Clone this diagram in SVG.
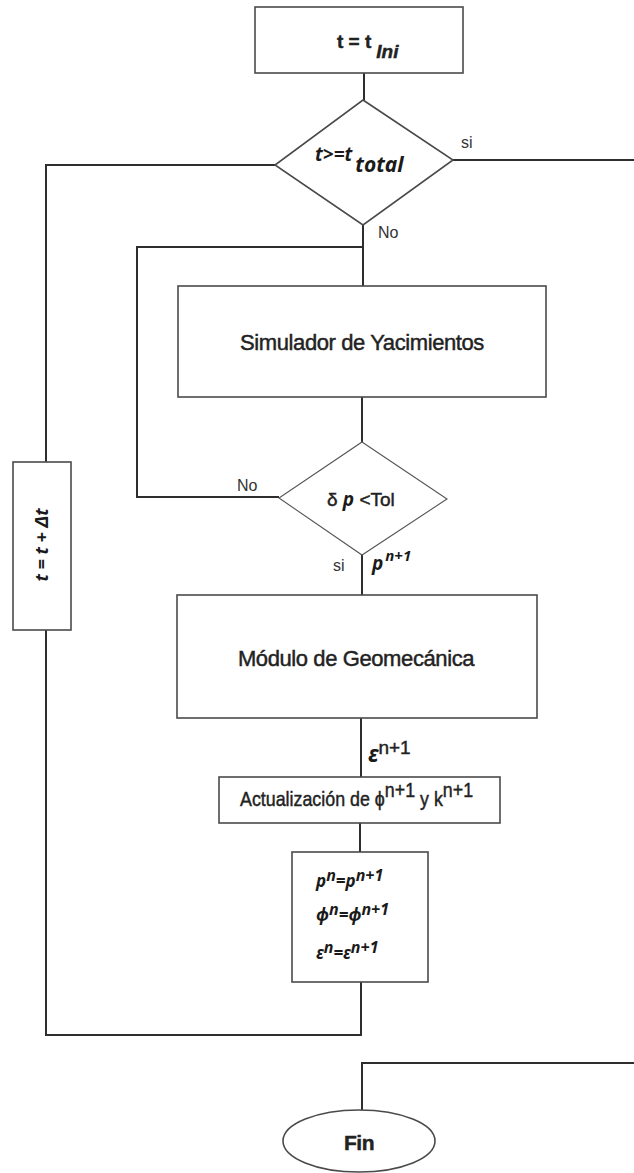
<svg xmlns="http://www.w3.org/2000/svg" width="634" height="1173" viewBox="0 0 634 1173">
  <style>
    .box { fill: #ffffff; stroke: #4a4a4a; stroke-width: 1.6; }
    .thin { fill: #ffffff; stroke: #555555; stroke-width: 1.1; }
    .wire { fill: none; stroke: #2e2e2e; stroke-width: 2; }
    .lbl { font-family: "Liberation Sans", Arial, sans-serif; fill: #222222; stroke: #222222; stroke-width: 0.45; }
    .math { font-family: "Noto Sans", "Open Sans", sans-serif; font-weight: bold; font-style: italic; fill: #1a1a1a; }
    .note { font-family: "Liberation Sans", Arial, sans-serif; fill: #333333; font-size: 16px; }
  </style>
  <rect width="634" height="1173" fill="#ffffff"/>

  <!-- connectors -->
  <g id="connectors">
    <path class="wire" d="M364 73 V100"/>
    <path class="wire" d="M453 160 H634"/>
    <path class="wire" d="M275 165 H46 V462"/>
    <path class="wire" d="M46 630 V1035 H361 V982"/>
    <path class="wire" d="M363 225 V286"/>
    <path class="wire" d="M363 247 H137 V497 H279"/>
    <path class="wire" d="M362 397 V442"/>
    <path class="wire" d="M362 555 V595"/>
    <path class="wire" d="M361 718 V777"/>
    <path class="wire" d="M360 823 V852"/>
    <path class="wire" d="M362 1110 V1063 H634"/>
    <text class="note" x="461" y="148">si</text>
    <text class="note" x="378" y="238">No</text>
    <text class="note" x="237" y="491">No</text>
    <text class="note" x="333" y="571">si</text>
    <text class="math" x="372" y="570" font-size="19">p<tspan dx="2" dy="-9" font-size="15">n+1</tspan></text>
    <text class="math" x="368" y="762" font-size="23" font-style="normal">ε<tspan class="lbl" dy="-8" font-size="19" font-style="normal" font-weight="normal">n+1</tspan></text>
  </g>

  <!-- start -->
  <g id="start">
    <rect class="box" x="255" y="7" width="208" height="66"/>
    <text class="lbl" x="337" y="48" font-size="19" font-weight="bold">t = t<tspan dx="5" dy="10" font-style="italic">Ini</tspan></text>
  </g>

  <!-- time check -->
  <g id="time-check">
    <polygon class="box" points="363,100 453,160 363,225 275,165"/>
    <text class="math" x="315" y="161" font-size="19">t&gt;=t<tspan dx="3" dy="11" font-size="21">total</tspan></text>
  </g>

  <!-- time step -->
  <g id="time-step">
    <rect class="box" x="13" y="462" width="58" height="168"/>
    <text class="math" x="0" y="0" font-size="18" text-anchor="middle" transform="translate(48 545) rotate(-90)">t = t + Δt</text>
  </g>

  <!-- reservoir simulator -->
  <g id="simulator">
    <rect class="box" x="178" y="286" width="368" height="111"/>
    <text class="lbl" x="362" y="350" font-size="22" text-anchor="middle" letter-spacing="-0.4">Simulador de Yacimientos</text>
  </g>

  <!-- pressure convergence -->
  <g id="pressure-check">
    <polygon class="thin" points="362,442 447,499 362,555 279,498"/>
    <text class="lbl" x="327" y="506" font-size="19">δ <tspan class="math" stroke="none">p</tspan> &lt;Tol</text>
  </g>

  <!-- geomechanics -->
  <g id="geomechanics">
    <rect class="box" x="177" y="595" width="360" height="123"/>
    <text class="lbl" x="356" y="666" font-size="22" text-anchor="middle" letter-spacing="-0.4">Módulo de Geomecánica</text>
  </g>

  <!-- porosity / permeability update -->
  <g id="update">
    <rect class="box" x="219" y="777" width="281" height="46"/>
    <g transform="translate(240 806) scale(0.85 1)">
      <text class="lbl" x="0" y="0" font-size="21">Actualización de ϕ<tspan dy="-9">n+1</tspan><tspan dy="9"> y k</tspan><tspan dy="-9">n+1</tspan></text>
    </g>
  </g>

  <!-- state copy -->
  <g id="state-copy">
    <rect class="box" x="292" y="852" width="136" height="130"/>
    <text class="math" x="316" y="887" font-size="17">p<tspan dy="-6" font-size="16">n</tspan><tspan dy="6">=p</tspan><tspan dy="-6" font-size="16">n+1</tspan></text>
    <text class="math" x="316" y="921" font-size="17" font-style="normal">ϕ<tspan dy="-6" font-size="16" font-style="italic">n</tspan><tspan dy="6">=ϕ</tspan><tspan dy="-6" font-size="16" font-style="italic">n+1</tspan></text>
    <text class="math" x="316" y="959" font-size="17">ε<tspan dy="-6" font-size="16">n</tspan><tspan dy="6">=ε</tspan><tspan dy="-6" font-size="16">n+1</tspan></text>
  </g>

  <!-- end -->
  <g id="end">
    <ellipse class="box" cx="359" cy="1141" rx="76" ry="31"/>
    <text class="lbl" x="359" y="1150" font-size="21" font-weight="bold" text-anchor="middle" letter-spacing="-0.5">Fin</text>
  </g>
</svg>
